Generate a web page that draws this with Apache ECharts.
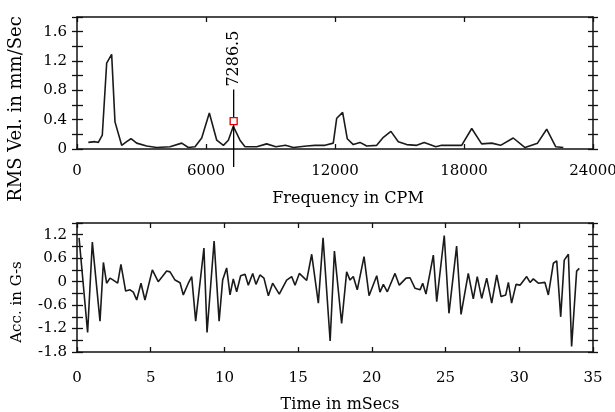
<!DOCTYPE html>
<html>
<head>
<meta charset="utf-8">
<script src="https://cdn.jsdelivr.net/npm/echarts@6/dist/echarts.min.js"></script>
<style>html,body{margin:0;padding:0;background:#fff}#c{width:615px;height:412px}</style>
</head>
<body>
<div id="c"></div>
<script>
// Spectrum (top)
const specFreq = [527,837,992,1177,1380,1612,1767,2078,2310,2512,2775,3240,3705,4325,4870,5180,5490,5800,6155,6500,6810,7040,7270,7580,7815,8360,8820,9250,9700,10060,10680,11070,11535,11920,12080,12355,12570,12850,13160,13475,13940,14250,14600,14945,15335,15800,16150,16690,16960,17890,18360,18820,19290,19700,20290,20840,21420,21845,22270,22620];
const specVel = [0.09,0.10,0.09,0.19,1.17,1.29,0.37,0.05,0.10,0.14,0.08,0.04,0.02,0.03,0.08,0.02,0.03,0.15,0.49,0.12,0.05,0.12,0.31,0.12,0.03,0.03,0.07,0.03,0.05,0.02,0.04,0.05,0.05,0.08,0.42,0.50,0.14,0.06,0.09,0.04,0.05,0.16,0.24,0.10,0.06,0.05,0.09,0.03,0.05,0.05,0.28,0.07,0.08,0.05,0.15,0.02,0.08,0.27,0.03,0.02];
const cursorFreq = 7286.5;
const cursorVal = 0.38;
const cursorTop = 0.81;
// Waveform (bottom)
const waveTime = [0.14,0.72,1.04,1.56,1.79,2.01,2.24,2.46,2.76,2.98,3.30,3.60,3.82,4.05,4.34,4.61,5.11,5.51,5.79,6.08,6.31,6.65,6.99,7.21,7.55,7.78,8.05,8.61,8.82,9.30,9.64,9.88,10.15,10.38,10.60,10.83,11.10,11.40,11.62,11.92,12.14,12.41,12.68,12.98,13.27,13.72,14.22,14.56,14.79,15.08,15.31,15.58,15.92,16.37,16.69,17.17,17.46,17.95,18.29,18.52,18.74,19.01,19.47,19.81,20.33,20.55,20.78,21.05,21.57,21.86,22.32,22.59,22.93,23.27,23.45,23.67,24.17,24.40,24.91,25.23,25.75,26.05,26.54,26.88,27.15,27.45,27.79,28.13,28.47,28.76,29.08,29.26,29.48,29.78,30.05,30.50,30.73,30.95,31.29,31.74,31.97,32.31,32.54,32.81,33.05,33.33,33.55,33.89,34.07];
const waveAcc = [1.12,-1.30,1.01,-1.01,0.49,-0.04,0.09,0.04,-0.04,0.44,-0.24,-0.21,-0.27,-0.47,-0.04,-0.47,0.30,0.00,0.13,0.27,0.25,0.04,-0.03,-0.34,-0.04,0.13,-1.01,0.86,-1.30,1.04,-1.01,0.04,0.35,-0.34,0.07,-0.26,0.15,0.19,-0.09,0.21,-0.07,0.17,0.09,-0.36,-0.04,-0.32,0.04,0.13,-0.09,0.21,0.13,0.03,0.70,-0.55,1.12,-1.52,0.78,-1.07,0.25,0.04,0.13,-0.21,0.64,-0.36,0.15,-0.27,-0.07,-0.26,0.21,-0.09,0.09,0.10,-0.17,-0.21,-0.04,-0.32,0.68,-0.51,1.18,-0.81,0.91,-0.84,0.21,-0.44,0.13,-0.43,0.09,-0.55,0.17,-0.38,-0.34,-0.02,-0.55,-0.07,-0.09,0.13,-0.02,0.07,-0.04,-0.02,-0.34,0.47,0.53,-0.90,0.55,0.70,-1.66,0.27,0.34];

const FONT = 'DejaVu Serif';
const lineC = '#111';
const axLine = {show:true, onZero:false, lineStyle:{color:lineC, width:1.5}};
const noLine = {show:false, onZero:false};

function yAxes(gi, min, max, interval, labelEvery, name, nameSize, namePad, labelPad) {
  const fmt = v => {
    const k = Math.round((v - min) / interval);
    if (k % labelEvery !== 0) return '';
    const r = Math.round(v * 10) / 10;
    return r === 0 ? '0' : String(r);
  };
  const base = {type:'value', gridIndex:gi, min, max, interval, splitLine:{show:false}};
  return [
    Object.assign({}, base, {position:'left', axisLine:axLine,
      axisTick:{show:true, inside:false, length:5, lineStyle:{color:lineC, width:1.3}},
      axisLabel:{show:true, formatter:fmt, margin:10, fontFamily:FONT, fontSize:15, color:'#000', padding:labelPad},
      name, nameLocation:'middle', nameGap:52, nameRotate:90,
      nameTextStyle:{fontFamily:FONT, fontSize:nameSize, color:'#000', padding:namePad}}),
    Object.assign({}, base, {position:'left', axisLine:noLine,
      axisTick:{show:true, inside:true, length:6, lineStyle:{color:lineC, width:1.3}}, axisLabel:{show:false}}),
    Object.assign({}, base, {position:'right', axisLine:axLine,
      axisTick:{show:true, inside:false, length:5, lineStyle:{color:lineC, width:1.3}}, axisLabel:{show:false}}),
    Object.assign({}, base, {position:'right', axisLine:noLine,
      axisTick:{show:true, inside:true, length:5, lineStyle:{color:lineC, width:1.3}}, axisLabel:{show:false}})
  ];
}

function xAxes(gi, min, max, interval, name, nameGap, namePad, labelMargin) {
  const base = {type:'value', gridIndex:gi, min, max, interval, splitLine:{show:false}};
  return [
    Object.assign({}, base, {position:'bottom', axisLine:axLine,
      axisTick:{show:true, inside:true, length:5, lineStyle:{color:lineC, width:1.3}},
      axisLabel:{show:true, margin:labelMargin, fontFamily:FONT, fontSize:15, color:'#000', formatter:v => String(v)},
      name, nameLocation:'middle', nameGap,
      nameTextStyle:{fontFamily:FONT, fontSize:16, color:'#000', padding:namePad}}),
    Object.assign({}, base, {position:'top', axisLine:axLine,
      axisTick:{show:true, inside:true, length:5, lineStyle:{color:lineC, width:1.3}},
      axisLabel:{show:false}})
  ];
}

const chart = echarts.init(document.getElementById('c'), null, {renderer:'canvas'});
const option = {
  animation:false,
  backgroundColor:'#fff',
  grid:[
    {left:77, right:22, top:17, height:132, outerBoundsMode:'none', containLabel:false},
    {left:77, right:22, top:223, height:129, outerBoundsMode:'none', containLabel:false}
  ],
  xAxis:[].concat(
    xAxes(0, 0, 24000, 6000, 'Frequency in CPM', 42, [0,0,0,26], 15),
    xAxes(1, 0, 35, 5, 'Time in mSecs', 45, [0,0,0,10], 19)
  ),
  yAxis:[].concat(
    yAxes(0, 0, 1.8, 0.2, 2, 'RMS Vel. in mm/Sec', 18, [0,52,0,0], [0,0,0,0]),
    yAxes(1, -1.8, 1.5, 0.3, 2, 'Acc. in G-s', 15, [0,29,0,0], [0,0,6,0])
  ),
  series:[
    {type:'line', xAxisIndex:0, yAxisIndex:0, showSymbol:false, symbol:'none',
      lineStyle:{color:'#1a1a1a', width:1.6}, data:specFreq.map((f,i)=>[f, specVel[i]])},
    {type:'line', xAxisIndex:2, yAxisIndex:4, showSymbol:false, symbol:'none',
      lineStyle:{color:'#1a1a1a', width:1.6}, data:waveTime.map((t,i)=>[t, waveAcc[i]])},
    {type:'custom', xAxisIndex:0, yAxisIndex:0, clip:false, z:5,
      data:[[cursorFreq, cursorVal, cursorTop]],
      renderItem:function(params, api){
        const f = api.value(0);
        const p = api.coord([f, api.value(1)]);
        const t = api.coord([f, api.value(2)]);
        const b = api.coord([f, 0]);
        return {type:'group', children:[
          {type:'line', shape:{x1:t[0], y1:t[1], x2:t[0], y2:b[1]+18}, style:{stroke:'#000', lineWidth:1.3}},
          {type:'rect', shape:{x:p[0]-3.5, y:p[1]-3.5, width:7, height:7}, style:{fill:'#fff', stroke:'#e00000', lineWidth:1.3}},
          {type:'text', x:t[0], y:t[1]-3, rotation:Math.PI/2,
            style:{text:String(f), align:'left', verticalAlign:'middle', fontFamily:FONT, fontSize:16, fill:'#000'}}
        ]};
      }}
  ]
};
chart.setOption(option);
</script>
</body>
</html>
